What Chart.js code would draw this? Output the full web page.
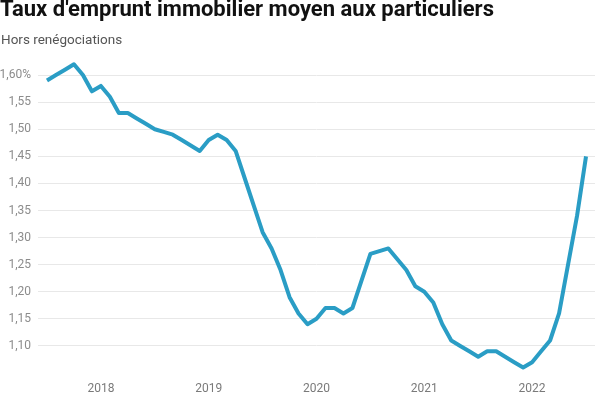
<!DOCTYPE html>
<html>
<head>
<meta charset="utf-8">
<script src="https://cdn.jsdelivr.net/npm/chart.js@4"></script>
<style>
  html, body { margin: 0; padding: 0; background: #ffffff; }
  #wrap { position: relative; width: 600px; height: 398px; overflow: hidden; }
  #title {
    position: absolute; left: 0; top: -2px; white-space: nowrap;
    font: bold 22px/22px Roboto, sans-serif; color: #111;
  }
  #subtitle {
    position: absolute; left: 1px; top: 33px; white-space: nowrap;
    font: 13.5px/13.5px Roboto, sans-serif; color: #555;
  }
  #box { position: absolute; left: 0; top: 0; width: 600px; height: 398px; }
</style>
</head>
<body>
<div id="wrap">
  <div id="box"><canvas id="rateChart"></canvas></div>
  <div id="title">Taux d'emprunt immobilier moyen aux particuliers</div>
  <div id="subtitle">Hors renégociations</div>
</div>
<script>
// ===============================
// DATA (monthly, July 2017 -> July 2022)
// ===============================

const rates = [
    1.59, 1.60, 1.61, 1.62, 1.60, 1.57,
    1.58, 1.56, 1.53, 1.53, 1.52, 1.51, 1.50, 1.495, 1.49, 1.48, 1.47, 1.46,
    1.48, 1.49, 1.48, 1.46, 1.41, 1.36, 1.31, 1.28, 1.24, 1.19, 1.16, 1.14,
    1.15, 1.17, 1.17, 1.16, 1.17, 1.22, 1.27, 1.275, 1.28, 1.26, 1.24, 1.21,
    1.20, 1.18, 1.14, 1.11, 1.10, 1.09, 1.08, 1.09, 1.09, 1.08, 1.07, 1.06,
    1.07, 1.09, 1.11, 1.16, 1.25, 1.34, 1.45
];

const yearLabels = ["2018", "2019", "2020", "2021", "2022"];
const yearTickIndex = [6, 18, 30, 42, 54];   // January of each year

const yTickValues = [1.10, 1.15, 1.20, 1.25, 1.30, 1.35, 1.40, 1.45, 1.50, 1.55, 1.60];

// ===============================
// CHART
// ===============================

Chart.defaults.font.family = "Roboto, sans-serif";

new Chart(document.getElementById("rateChart"), {
    type: "line",
    data: {
        datasets: [{
            label: "Taux moyen",
            data: rates.map((v, i) => ({ x: i, y: v })),
            borderColor: "#2a9dc5",
            borderWidth: 4,
            pointRadius: 0,
            tension: 0,
            borderJoinStyle: "round",
            borderCapStyle: "butt",
            fill: false
        }]
    },
    options: {
        responsive: true,
        maintainAspectRatio: false,
        animation: false,
        layout: {
            padding: { top: 61, left: 0, right: 5, bottom: 0 }
        },
        plugins: {
            legend: { display: false },
            tooltip: { enabled: false }
        },
        scales: {
            x: {
                type: "linear",
                min: -1,
                max: 61,
                grid: { display: false },
                border: { display: false },
                afterBuildTicks: (scale) => {
                    scale.ticks = yearTickIndex.map(v => ({ value: v }));
                },
                afterFit: (scale) => { scale.height = 25; },
                ticks: {
                    color: "#7a7a7a",
                    font: { size: 12 },
                    padding: 1,
                    maxRotation: 0,
                    autoSkip: false,
                    callback: (value) => yearLabels[yearTickIndex.indexOf(value)]
                }
            },
            y: {
                min: 1.05,
                max: 1.626,
                grid: {
                    color: "#e8e8e8",
                    lineWidth: 1,
                    drawTicks: false
                },
                border: { display: false },
                afterBuildTicks: (scale) => {
                    scale.ticks = yTickValues.map(v => ({ value: v }));
                },
                afterFit: (scale) => { scale.width = 38; },
                ticks: {
                    color: "#8c8c8c",
                    font: { size: 12 },
                    padding: 7,
                    callback: (value) => {
                        const txt = value.toFixed(2).replace(".", ",");
                        return value >= 1.599 ? txt + "%" : txt;
                    }
                }
            }
        }
    }
});
</script>
</body>
</html>
